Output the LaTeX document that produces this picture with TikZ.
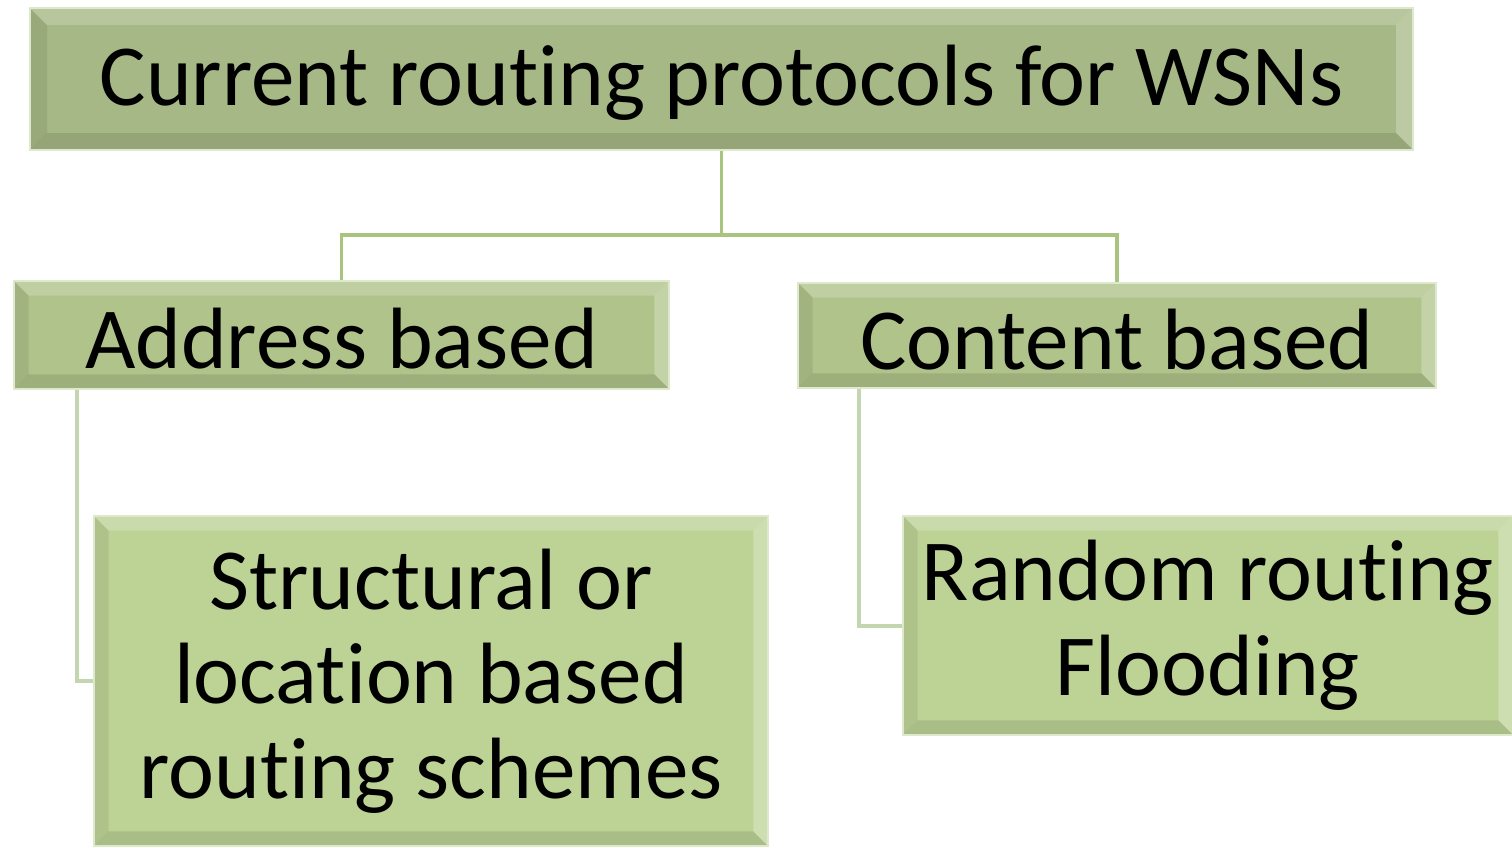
\documentclass[tikz,border=0pt]{standalone}
\usepackage{fontspec}
\setmainfont[Ligatures=NoCommon]{Carlito}
\usetikzlibrary{calc}
\definecolor{topfill}{HTML}{A6B885}
\definecolor{midfill}{HTML}{AFC38A}
\definecolor{lowfill}{HTML}{BDD396}
\definecolor{glow}{HTML}{DDE8CC}
\definecolor{treeline}{HTML}{A9C47F}
\definecolor{brackline}{HTML}{C4D6AF}
\tikzset{
  bevelbox/.style={draw=glow, line width=1.5pt, inner sep=0pt, align=center,
    font=\fontsize{65.3}{71}\selectfont,
    execute at begin node={\rule{0pt}{\dimexpr\fontcharht\font`l+5.5pt\relax}},
    path picture={
      \coordinate (pnw) at (path picture bounding box.north west);
      \coordinate (pne) at (path picture bounding box.north east);
      \coordinate (psw) at (path picture bounding box.south west);
      \coordinate (pse) at (path picture bounding box.south east);
      \fill[white,opacity=0.2] (pnw) -- (pne) -- ($(pne)+(-#1,-#1)$) -- ($(pnw)+(#1,-#1)$) -- cycle;
      \fill[white,opacity=0.25] (pne) -- (pse) -- ($(pse)+(-#1,#1)$) -- ($(pne)+(-#1,-#1)$) -- cycle;
      \fill[black,opacity=0.1] (psw) -- (pse) -- ($(pse)+(-#1,#1)$) -- ($(psw)+(#1,#1)$) -- cycle;
      \fill[black,opacity=0.08] (pnw) -- (psw) -- ($(psw)+(#1,#1)$) -- ($(pnw)+(#1,-#1)$) -- cycle;
    }},
  bevelbox/.default=11pt,
  treelink/.style={draw=treeline, line width=2.3pt},
  bracklink/.style={draw=brackline, line width=3pt}
}
\begin{document}
\begin{tikzpicture}[x=0.75pt,y=-0.75pt]
\useasboundingbox (0,0) rectangle (1512,847);
\clip (0,0) rectangle (1512,847);
\fill[white] (0,0) rectangle (1512,847);

\node[bevelbox=12.75pt, fill=topfill, minimum width=1037.25pt, minimum height=106.5pt] (top) at (721.5,79) {Current routing protocols for WSNs};
\node[bevelbox, fill=midfill, minimum width=491.25pt, minimum height=81pt] (addr) at (341.5,335) {Address based};
\node[bevelbox, fill=midfill, minimum width=478.5pt, minimum height=78.75pt] (cont) at (1117,335.5) {Content based};
\node[bevelbox, fill=lowfill, minimum width=505.5pt, minimum height=247.5pt] (struct) at (431,681) {Structural or\\location based\\routing schemes};
\node[bevelbox, fill=lowfill, minimum width=457.5pt, minimum height=164.25pt] (rand) at (1208,625.5) {Random routing\\Flooding};

\draw[treelink] (top.south) -- ++(0,84) coordinate (junc);
\draw[treelink] (junc) -| (addr.north);
\draw[treelink] (junc) -| (cont.north);

\draw[bracklink] ([xshift=48pt]addr.south west) |- (struct.west);
\draw[bracklink] ([xshift=46.5pt]cont.south west) |- (rand.west);
\end{tikzpicture}
\end{document}
